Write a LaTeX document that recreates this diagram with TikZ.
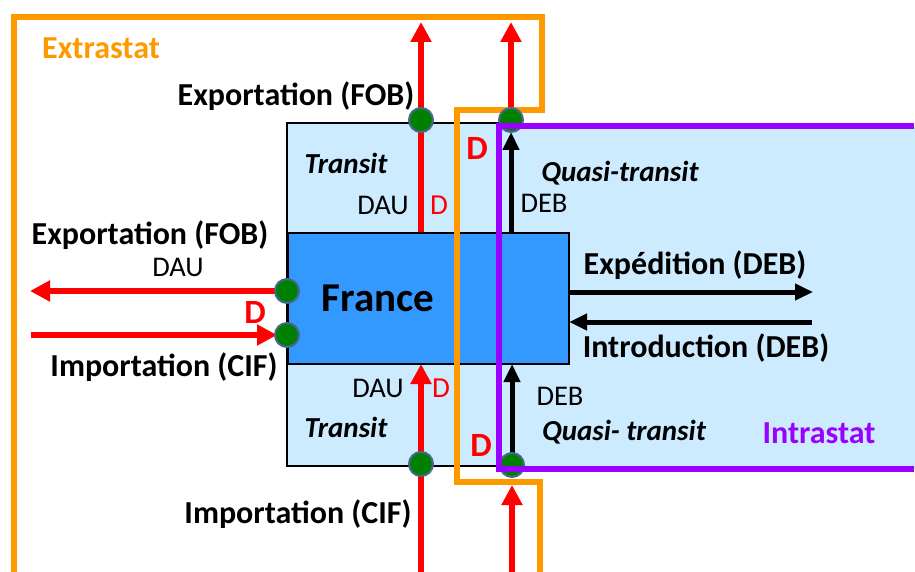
\documentclass[tikz,border=0pt]{standalone}
\usepackage{fontspec}
\setmainfont{Carlito}
\usetikzlibrary{arrows.meta}
\definecolor{orangeX}{HTML}{FF9900}
\definecolor{purpleX}{HTML}{9900FF}
\definecolor{lightB}{HTML}{CCEBFF}
\definecolor{darkB}{HTML}{3399FF}
\definecolor{redX}{HTML}{FF0000}
\definecolor{greenX}{HTML}{008000}
\definecolor{dotB}{HTML}{44698F}
\begin{document}
\begin{tikzpicture}[x=1pt,y=-1pt,
  big/.style={inner sep=0pt, font=\fontsize{32}{36}\selectfont\bfseries},
  small/.style={inner sep=0pt, font=\fontsize{28.5}{32}\selectfont},
  ital/.style={inner sep=0pt, font=\fontsize{29}{32}\selectfont\bfseries\itshape},
  redD/.style={inner sep=0pt, text=redX, font=\fontsize{29}{32}\selectfont},
  bigD/.style={inner sep=0pt, text=redX, font=\fontsize{34}{38}\selectfont\bfseries},
  redarr/.style={draw=redX, line width=6pt, -{Triangle[length=20pt,width=20pt]}},
  blackarr/.style={draw=black, line width=5pt, -{Triangle[length=18pt,width=16pt]}},
  gdot/.style={circle, fill=greenX, draw=dotB, line width=2pt, minimum size=24pt, inner sep=0pt},
  frameO/.style={draw=orangeX, line width=6pt, line join=miter},
  frameP/.style={draw=purpleX, line width=6pt, line cap=butt}
]
\useasboundingbox (0,0) rectangle (915,572);
\fill[white] (0,0) rectangle (915,572);
% boxes
\filldraw[fill=lightB, draw=black, line width=1.5pt] (287,123) rectangle (520,466);
\fill[lightB] (499,126) rectangle (915,469);
\node[draw=black, line width=1.5pt, fill=darkB, minimum width=281pt, minimum height=131pt, inner sep=0pt, anchor=north west] (france) at (287,232) {};
\node[inner sep=0pt, font=\fontsize{41}{46}\selectfont\bfseries] (francet) at (378,298) {France};
% coordinates
\coordinate (a1s) at (421,232); \coordinate (a1e) at (421,22);
\coordinate (a2s) at (511,112); \coordinate (a2e) at (511,22);
\coordinate (b1s) at (511,232); \coordinate (b1e) at (511,132);
\coordinate (l1s) at (287,291); \coordinate (l1e) at (30,291);
\coordinate (l2s) at (31,335); \coordinate (l2e) at (277,335);
\coordinate (a3s) at (421,572); \coordinate (a3e) at (421,364);
\coordinate (a4s) at (512,572); \coordinate (a4e) at (512,485);
\coordinate (b2s) at (512,466); \coordinate (b2e) at (512,364);
\coordinate (r1s) at (568,292); \coordinate (r1e) at (813,292);
\coordinate (r2s) at (812,322); \coordinate (r2e) at (569,322);
% arrows
\draw[redarr] (a1s) -- (a1e);
\draw[redarr] (a2s) -- (a2e);
\draw[blackarr] (b1s) -- (b1e);
\draw[redarr] (l1s) -- (l1e);
\draw[redarr] (l2s) -- (l2e);
\draw[redarr] (a3s) -- (a3e);
\draw[redarr] (a4s) -- (a4e);
\draw[blackarr] (b2s) -- (b2e);
\draw[blackarr] (r1s) -- (r1e);
\draw[blackarr] (r2s) -- (r2e);
% orange frame
\draw[frameO] (14,572) -- (14,17) -- (542,17) -- (542,110) -- (457,110) -- (457,482) -- (540,482) -- (540,572);
% dots
\node[gdot] (d1) at (421,120) {};
\node[gdot] (d2) at (511,120) {};
\node[gdot] (d3) at (287,291) {};
\node[gdot] (d4) at (287,335) {};
\node[gdot] (d5) at (421,464) {};
\node[gdot] (d6) at (512,465) {};
% purple frame
\draw[frameP] (914,126) -- (499,126) -- (499,469) -- (914,469);
% texts
\node[inner sep=0pt, text=orangeX, font=\fontsize{32}{36}\selectfont\bfseries] (extra) at (101,48) {Extrastat};
\node[inner sep=0pt, text=purpleX, font=\fontsize{32}{36}\selectfont\bfseries] (intra) at (819,433) {Intrastat};
\node[big] (expT) at (296,96) {Exportation (FOB)};
\node[big] (expL) at (150,235) {Exportation (FOB)};
\node[big] (impL) at (164,367) {Importation (CIF)};
\node[big] (impB) at (298,514) {Importation (CIF)};
\node[big] (exped) at (695,265) {Expédition (DEB)};
\node[big] (intro) at (706,348) {Introduction (DEB)};
\node[ital] (qt1) at (620,173) {Quasi-transit};
\node[ital] (qt2) at (624,432) {Quasi- transit};
\node[ital] (tr1) at (346,163) {Transit};
\node[ital] (tr2) at (346,427) {Transit};
\node[small] (dau1) at (383,205) {DAU};
\node[small] (dau2) at (178,267) {DAU};
\node[small] (dau3) at (378,388) {DAU};
\node[small] (deb1) at (544,203) {DEB};
\node[small] (deb2) at (560,396) {DEB};
\node[redD] (dd1) at (439,205) {D};
\node[redD] (dd2) at (441,388) {D};
\node[bigD] (dd3) at (255,312) {D};
\node[bigD] (dd4) at (477,148) {D};
\node[bigD] (dd5) at (481,445) {D};
\end{tikzpicture}
\end{document}
